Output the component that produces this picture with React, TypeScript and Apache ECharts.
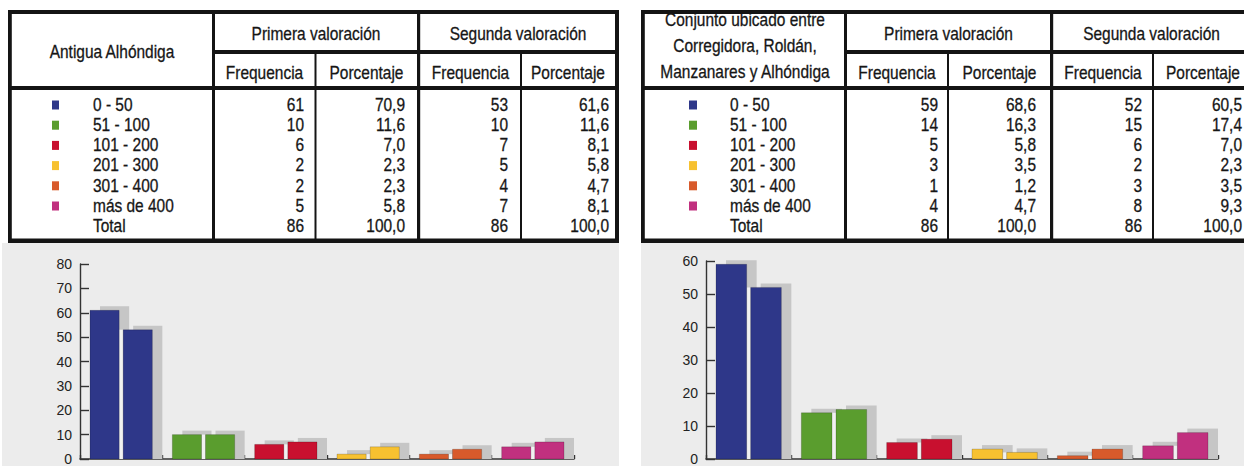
import React, { useEffect, useRef } from "react";
import * as echarts from "echarts";

// ---------- data ----------
const rangeLabels = ["0 - 50", "51 - 100", "101 - 200", "201 - 300", "301 - 400", "más de 400"];
const totalLabel = "Total";
const rangeColors = ["#2e3789", "#5a9d2e", "#c8102f", "#f7c130", "#d85a2b", "#c1307f"];

const headerPrimera = "Primera valoración";
const headerSegunda = "Segunda valoración";
const headerFreq = "Frequencia";
const headerPct = "Porcentaje";

const titleA = ["Antigua Alhóndiga"];
const freqA1 = [61, 10, 6, 2, 2, 5];
const pctA1 = ["70,9", "11,6", "7,0", "2,3", "2,3", "5,8"];
const freqA2 = [53, 10, 7, 5, 4, 7];
const pctA2 = ["61,6", "11,6", "8,1", "5,8", "4,7", "8,1"];

const titleB = ["Conjunto ubicado entre", "Corregidora, Roldán,", "Manzanares y Alhóndiga"];
const freqB1 = [59, 14, 5, 3, 1, 4];
const pctB1 = ["68,6", "16,3", "5,8", "3,5", "1,2", "4,7"];
const freqB2 = [52, 15, 6, 2, 3, 8];
const pctB2 = ["60,5", "17,4", "7,0", "2,3", "3,5", "9,3"];

const totalPct = "100,0";
const yMaxA = 80;
const yMaxB = 60;
const yStep = 10;

// ---------- helpers ----------
const FONT = '"Liberation Sans", Arial, Helvetica, sans-serif';
const INK = "#161616";
const LINE = "#141414";

const rect = (x: number, y: number, w: number, h: number, fill: string, z = 10) => ({
  type: "rect",
  shape: { x, y, width: w, height: h },
  style: { fill },
  z,
  silent: true,
});

const txt = (t: string, x: number, y: number, align: string, size = 18, sx = 0.86) => ({
  type: "text",
  x,
  y,
  scaleX: sx,
  style: {
    text: t,
    x: 0,
    y: 0,
    align,
    verticalAlign: "middle",
    font: `${size}px ${FONT}`,
    fill: INK,
    stroke: INK,
    lineWidth: 0.3,
  },
  z: 12,
  silent: true,
});

type Geom = {
  L: number; R: number; labelDiv: number; primSeg: number; thin1: number; thin2: number;
  labelCx: number; titleYs: number[]; primCx: number; segCx: number; colCx: number[];
  numRight: number[]; sqX: number; sqW: number; labelX: number;
};

function buildTable(g: Geom, title: string[], f1: number[], p1: string[], f2: number[], p2: string[]) {
  const T = 10, B = 243;
  const els: any[] = [];
  els.push(rect(g.L, T, g.R - g.L, B - T, "#ffffff", 5));
  // lines
  els.push(rect(g.L, T, g.R - g.L, 4, LINE));
  els.push(rect(g.L, B - 4.5, g.R - g.L, 4.5, LINE));
  els.push(rect(g.L, T, 3.8, B - T, LINE));
  els.push(rect(g.R - 4, T, 4, B - T, LINE));
  els.push(rect(g.labelDiv, T, 3, B - T, LINE));
  els.push(rect(g.labelDiv, 50, g.R - g.labelDiv, 4, LINE));
  els.push(rect(g.L, 86, g.R - g.L, 4, LINE));
  els.push(rect(g.primSeg, T, 3.2, B - T, LINE));
  els.push(rect(g.thin1, 52, 2, B - 52, LINE));
  els.push(rect(g.thin2, 52, 2, B - 52, LINE));
  // header texts
  title.forEach((t, i) => els.push(txt(t, g.labelCx, g.titleYs[i], "center")));
  els.push(txt(headerPrimera, g.primCx, 34, "center"));
  els.push(txt(headerSegunda, g.segCx, 34, "center"));
  [headerFreq, headerPct, headerFreq, headerPct].forEach((t, i) =>
    els.push(txt(t, g.colCx[i], 73, "center"))
  );
  // rows
  const rowY = (i: number) => 105 + 20.2 * i;
  const total = (a: number[]) => a.reduce((s, v) => s + v, 0);
  rangeLabels.forEach((lab, i) => {
    const y = rowY(i);
    els.push(rect(g.sqX, y - 4.5, g.sqW, 9, rangeColors[i], 12));
    els.push(txt(lab, g.labelX, y, "left"));
    els.push(txt(String(f1[i]), g.numRight[0], y, "right"));
    els.push(txt(p1[i], g.numRight[1], y, "right"));
    els.push(txt(String(f2[i]), g.numRight[2], y, "right"));
    els.push(txt(p2[i], g.numRight[3], y, "right"));
  });
  const ty = rowY(6);
  els.push(txt(totalLabel, g.labelX, ty, "left"));
  els.push(txt(String(total(f1)), g.numRight[0], ty, "right"));
  els.push(txt(totalPct, g.numRight[1], ty, "right"));
  els.push(txt(String(total(f2)), g.numRight[2], ty, "right"));
  els.push(txt(totalPct, g.numRight[3], ty, "right"));
  return els;
}

const geomA: Geom = {
  L: 8, R: 619, labelDiv: 212, primSeg: 417, thin1: 314.5, thin2: 520,
  labelCx: 112, titleYs: [52], primCx: 316, segCx: 518,
  colCx: [264.5, 366.5, 470.5, 568],
  numRight: [304, 405, 508, 609],
  sqX: 52, sqW: 7, labelX: 93,
};

const geomB: Geom = {
  L: 641, R: 1251, labelDiv: 844, primSeg: 1050, thin1: 947, thin2: 1152,
  labelCx: 745, titleYs: [20, 46, 72], primCx: 948.5, segCx: 1151.5,
  colCx: [897, 999.5, 1103, 1203],
  numRight: [938, 1036, 1142, 1242],
  sqX: 689, sqW: 8, labelX: 730,
};

const SHADOW = "#c6c6c6";

function barRenderer(params: any, api: any) {
  const cat = api.value(0);
  const v1 = api.value(1);
  const v2 = api.value(2);
  const base = api.coord([cat, 0]);
  const W = api.size([1, 0])[0];
  const left = base[0] - W / 2;
  const pad = 10;
  const gap = 4;
  const w = (W - 2 * pad - gap) / 2;
  const y0 = base[1];
  const t1 = api.coord([cat, v1])[1];
  const t2 = api.coord([cat, v2])[1];
  const x1 = left + pad;
  const x2 = x1 + w + gap;
  const color = rangeColors[params.dataIndex];
  const r = (x: number, y: number, ww: number, hh: number, fill: string, stroke?: string) => ({
    type: "rect",
    shape: { x, y, width: ww, height: hh },
    style: stroke ? { fill, stroke, lineWidth: 1 } : { fill },
  });
  const gapTop = Math.max(t1, t2);
  return {
    type: "group",
    children: [
      r(x1 + pad, t1 - 4, w, y0 - t1 + 4, SHADOW),
      r(x2 + pad, t2 - 4, w, y0 - t2 + 4, SHADOW),
      r(x1 + w, gapTop, gap, y0 - gapTop, "#f1f1f1"),
      r(x1, t1, w, y0 - t1, color, "rgba(0,0,0,0.18)"),
      r(x2, t2, w, y0 - t2, color, "rgba(0,0,0,0.18)"),
    ],
  };
}

const axisColor = "#333333";

function xAxisFor(gi: number) {
  return {
    type: "category",
    gridIndex: gi,
    data: rangeLabels,
    boundaryGap: true,
    axisLine: { show: true, lineStyle: { color: axisColor, width: 1.6 } },
    axisTick: { show: true, inside: true, length: 4, interval: 0, lineStyle: { color: axisColor, width: 1.4 } },
    axisLabel: { show: false },
    splitLine: { show: false },
  };
}

function yAxisFor(gi: number, max: number) {
  return {
    type: "value",
    gridIndex: gi,
    min: 0,
    max,
    interval: yStep,
    axisLine: { show: true, lineStyle: { color: axisColor, width: 1.4 } },
    axisTick: { show: true, inside: true, length: 9, lineStyle: { color: axisColor, width: 1.4 } },
    axisLabel: { show: true, color: "#222", fontSize: 14, fontFamily: FONT, margin: 8 },
    splitLine: { show: false },
  };
}

export default function App() {
  const ref = useRef<HTMLDivElement>(null);
  useEffect(() => {
    document.body.style.margin = "0";
    if (!ref.current) return;
    const chart = echarts.init(ref.current, undefined, { renderer: "svg" });
    const dataA = rangeLabels.map((_, i) => [i, freqA1[i], freqA2[i]]);
    const dataB = rangeLabels.map((_, i) => [i, freqB1[i], freqB2[i]]);
    const graphics = [
      rect(2, 243, 617, 223, "#ececec", 0),
      rect(641, 243, 603, 223, "#ececec", 0),
      ...buildTable(geomA, titleA, freqA1, pctA1, freqA2, pctA2),
      ...buildTable(geomB, titleB, freqB1, pctB1, freqB2, pctB2),
    ];
    chart.setOption({
      animation: false,
      backgroundColor: "#ffffff",
      graphic: { elements: graphics },
      grid: [
        { left: 80, top: 264, width: 494, height: 195 },
        { left: 706, top: 261, width: 512, height: 202 },
      ],
      xAxis: [xAxisFor(0), xAxisFor(1)],
      yAxis: [yAxisFor(0, yMaxA), yAxisFor(1, yMaxB)],
      series: [
        {
          type: "custom",
          xAxisIndex: 0,
          yAxisIndex: 0,
          renderItem: barRenderer,
          encode: { x: 0, y: [1, 2] },
          data: dataA,
          z: 5,
        },
        {
          type: "custom",
          xAxisIndex: 1,
          yAxisIndex: 1,
          renderItem: barRenderer,
          encode: { x: 0, y: [1, 2] },
          data: dataB,
          z: 5,
        },
      ],
    });
    return () => chart.dispose();
  }, []);
  return (
    <div
      ref={ref}
      style={{ position: "absolute", left: 0, top: 0, width: 1244, height: 466 }}
    />
  );
}
